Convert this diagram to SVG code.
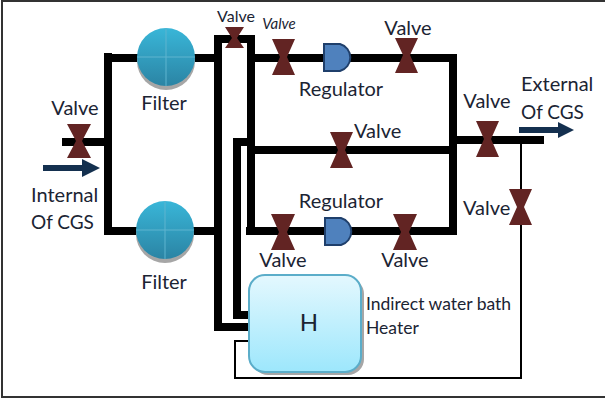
<svg xmlns="http://www.w3.org/2000/svg" width="605" height="398" viewBox="0 0 605 398">
<style>
text{font-family:Lato,"Liberation Sans",sans-serif;font-size:20px;fill:#1b2433}
.m{text-anchor:middle}
.pipe{fill:none;stroke:#000;stroke-width:8}
.thin{fill:none;stroke:#000;stroke-width:2}
.valve{fill:#622423}
.reg{fill:#4f81bd;stroke:#1f3f6b;stroke-width:2}
.arrow{fill:#14304f}
.div{stroke:#5fb4cf;stroke-width:1;fill:none}
</style>
<defs>
<linearGradient id="fg" x1="0" y1="0" x2="0" y2="1"><stop offset="0" stop-color="#39b6d8"/><stop offset="1" stop-color="#2b84a4"/></linearGradient>
<linearGradient id="hg" x1="0" y1="0" x2="0" y2="1"><stop offset="0" stop-color="#e4f8fe"/><stop offset="1" stop-color="#9de7fc"/></linearGradient>
</defs>
<rect width="605" height="398" fill="#fff"/>
<path d="M605 1H2V397H605" fill="none" stroke="#333" stroke-width="2"/>
<g id="connectors">
<path class="pipe" d="M108 53V231H140M108 58H218M62 142H108M140 231H218"/>
<path class="pipe" d="M218 331V39H251V231M218 327H252"/>
<path class="pipe" d="M251 58H453V231H246M251 150H453M453 140H544"/>
<path class="pipe" d="M251 142H237V315H252"/>
<path class="thin" d="M521 144V378H235V341H252"/>
</g>
<g id="valve-inlet"><path class="valve" d="M67 124H91L82 141L91 158H67L76 141Z"/><text class="m" x="75" y="115">Valve</text></g>
<g id="arrow-in"><path class="arrow" d="M43 165H82V159L100 168L82 177V171H43Z"/></g>
<g id="label-internal"><text x="31" y="202">Internal</text><text x="31" y="229" style="font-size:19px">Of CGS</text></g>
<g id="filter-top"><circle cx="166" cy="61" r="29" fill="#a6a6a6"/><circle cx="166" cy="57" r="29" fill="url(#fg)"/><path class="div" d="M137 57H195M166 28V86"/><text class="m" x="164" y="110">Filter</text></g>
<g id="filter-bottom"><circle cx="165" cy="234" r="29" fill="#a6a6a6"/><circle cx="165" cy="230" r="29" fill="url(#fg)"/><path class="div" d="M136 230H194M165 201V259"/><text class="m" x="164" y="289">Filter</text></g>
<g id="valve-bypass"><path class="valve" d="M225 27H244L237 38L244 48H225L232 38Z"/><text class="m" x="236" y="22" style="font-size:16px">Valve</text></g>
<g id="valve-top-1"><path class="valve" d="M272 39H295L287 57L295 75H272L280 57Z"/><text class="m" x="279" y="29" style="font-size:15px;font-style:italic">Valve</text></g>
<g id="regulator-top"><path class="reg" d="M324 44H340A14 14 0 0 1 340 71H324Z"/><text class="m" x="341" y="96">Regulator</text></g>
<g id="valve-top-2"><path class="valve" d="M395 38H418L410 55L418 73H395L403 55Z"/><text class="m" x="408" y="35">Valve</text></g>
<g id="valve-middle"><path class="valve" d="M330 132H353L345 150L353 168H330L338 150Z"/><text x="354" y="138">Valve</text></g>
<g id="valve-outlet"><path class="valve" d="M476 121H499L491 139L499 157H476L484 139Z"/><text class="m" x="487" y="108">Valve</text></g>
<g id="arrow-out"><path class="arrow" d="M519 127H558V122L574 130L558 138V133H519Z"/></g>
<g id="label-external"><text x="521" y="91">External</text><text x="521" y="119" style="font-size:19px">Of CGS</text></g>
<g id="valve-return"><path class="valve" d="M509 189H532L524 207L532 225H509L517 207Z"/><text x="463" y="215">Valve</text></g>
<g id="valve-bottom-1"><path class="valve" d="M271 214H295L287 232L295 250H271L279 232Z"/><text class="m" x="283" y="267">Valve</text></g>
<g id="regulator-bottom"><path class="reg" d="M325 218H341A14 14 0 0 1 341 245H325Z"/><text class="m" x="341" y="208">Regulator</text></g>
<g id="valve-bottom-2"><path class="valve" d="M393 214H417L409 232L417 250H393L401 232Z"/><text class="m" x="405" y="267">Valve</text></g>
<g id="heater"><rect x="252" y="278" width="112" height="97" rx="16" fill="#a6a6a6"/><rect x="249" y="275" width="112" height="97" rx="16" fill="url(#hg)" stroke="#5badc9" stroke-width="2"/><text class="m" x="309" y="331" style="font-size:24px">H</text><text x="366" y="310" style="font-size:17.5px">Indirect water bath</text><text x="366" y="334" style="font-size:17.5px">Heater</text></g>
</svg>
